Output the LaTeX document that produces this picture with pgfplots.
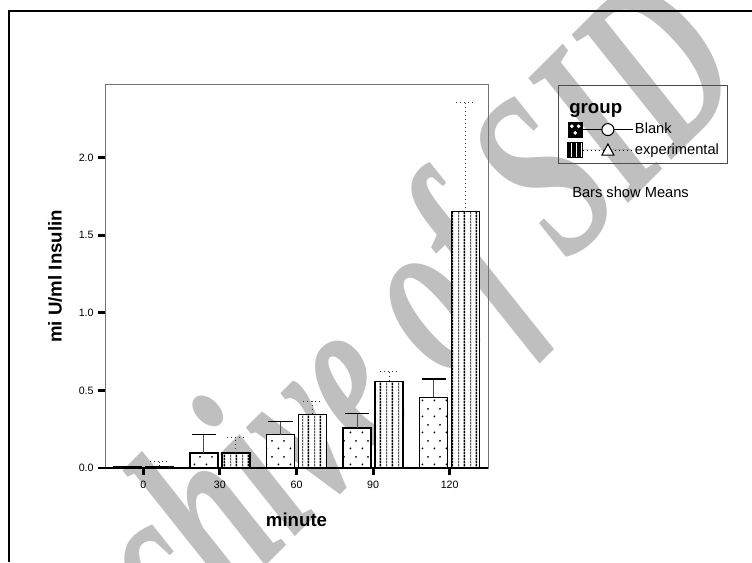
\documentclass[border=0pt]{standalone}
\usepackage{pgfplots}
\pgfplotsset{compat=1.18}
\usepackage{pgfplotstable}
\usepackage{graphicx}
\usepackage{fontspec}
\setmainfont{Liberation Sans}
\newfontfamily\wmfont{Liberation Serif}
\usetikzlibrary{patterns.meta}

\tikzdeclarepattern{
  name=spdots,
  type=uncolored,
  bounding box={(0,0) and (9pt,12pt)},
  tile size={(9pt,12pt)},
  code={
    \fill (2pt,2pt) circle (0.8pt);
    \fill (6.5pt,8pt) circle (0.8pt);
  }
}
\tikzdeclarepattern{
  name=vlines,
  type=uncolored,
  bounding box={(0,0) and (9pt,2pt)},
  tile size={(9pt,2pt)},
  code={
    \fill (1.95pt,0pt) rectangle (2.6pt,2pt);
    \fill (6.2pt,0pt) rectangle (7.35pt,2pt);
  }
}

\pgfplotstableread{
x y e
0 0.010 0.000
1 0.097 0.118
2 0.215 0.085
3 0.258 0.094
4 0.456 0.118
}\blank
\pgfplotstableread{
x y e
0 0.010 0.030
1 0.097 0.100
2 0.346 0.084
3 0.559 0.060
4 1.652 0.703
}\expt

\begin{document}
\begin{tikzpicture}
\useasboundingbox (0,0) rectangle (564pt,421.5pt);
\begin{scope}
\clip (0,0) rectangle (564pt,421.5pt);
\node[anchor=center, inner sep=0pt, text=black!25, font=\wmfont\bfseries\itshape\fontsize{130}{130}\selectfont] at (275pt,136pt) {\rotatebox{45}{\scalebox{0.9}[1.4]{Archive of SID}}};
\end{scope}
\draw[line width=1.6pt] (6.75pt,0pt) -- (6.75pt,413.25pt) -- (564pt,413.25pt);

\begin{axis}[
  at={(78.75pt,70.5pt)}, anchor=south west,
  scale only axis, width=287.25pt, height=287.5pt,
  xmin=-0.5, xmax=4.5, ymin=0, ymax=2.47,
  xtick={0,1,2,3,4}, xticklabels={0,30,60,90,120},
  ytick={0,0.5,1,1.5,2},
  yticklabel style={/pgf/number format/.cd, fixed, fixed zerofill, precision=1},
  /pgf/number format/assume math mode=true,
  tick align=outside, xtick pos=bottom, ytick pos=left,
  major tick length=5pt,
  tick style={black, line width=2.2pt},
  axis line style={black!55, line width=0.6pt},
  ticklabel style={font=\fontsize{8}{9}\selectfont},
  xticklabel style={yshift=-1pt},
  xlabel={minute}, ylabel={mi U/ml Insulin},
  label style={font=\fontsize{14}{16}\selectfont\bfseries},
  xlabel style={at={(axis description cs:0.5,-0.1357)}, anchor=center},
  ylabel style={at={(axis description cs:-0.1305,0.5)}, anchor=center},
  legend style={draw=none, fill=none, at={(1.206,0.9035)}, anchor=north west,
    font=\fontsize{11}{13}\selectfont, row sep=3.5pt, inner sep=0pt,
    nodes={inner sep=1pt}},
  legend cell align=left,
]
\addplot[ybar, bar width=21pt, bar shift=-12pt, draw=black, line width=1.1pt, fill=white,
  legend image code/.code={
    \draw[black, fill=black, line width=0.5pt] (0pt,-5.5pt) rectangle (11pt,5.5pt);
    \fill[white] (3pt,2.5pt) circle (0.7pt) (8pt,2.5pt) circle (0.7pt) (5.5pt,-2.5pt) circle (0.7pt);
    \draw[black, line width=0.6pt] (11pt,0pt) -- (49pt,0pt);
    \draw[black, line width=0.8pt, fill=white] (30pt,0pt) circle (4.5pt);
  }] table[x=x, y=y] {\blank};
\addlegendentry{Blank}
\addplot[ybar, bar width=21pt, bar shift=12pt, draw=black, line width=1.1pt, fill=white,
  legend image code/.code={
    \draw[black, fill=white, line width=0.5pt] (0pt,-5.5pt) rectangle (11pt,5.5pt);
    \fill[black] (0pt,-5.5pt) rectangle (1.6pt,5.5pt) (4pt,-5.5pt) rectangle (5.6pt,5.5pt) (7.5pt,-5.5pt) rectangle (9pt,5.5pt);
    \draw[black, line width=0.6pt, dash pattern=on 0.8pt off 2.2pt] (11pt,0pt) -- (49pt,0pt);
    \draw[black, line width=0.8pt, fill=white] (25.5pt,-3.8pt) -- (34.5pt,-3.8pt) -- (30pt,4.5pt) -- cycle;
  }] table[x=x, y=y] {\expt};
\addlegendentry{experimental}
\addplot[ybar, bar width=21pt, bar shift=-12pt, draw=none, pattern={spdots}, pattern color=black, forget plot] table[x=x, y=y] {\blank};
\addplot[ybar, bar width=21pt, bar shift=12pt, draw=none, pattern={vlines}, pattern color=black, forget plot] table[x=x, y=y] {\expt};
% error bars
\addplot[draw=none, mark=none, forget plot,
  error bars/.cd, y dir=plus, y explicit, error mark=|,
  error bar style={draw=black!70, line width=0.7pt, solid},
  error mark options={draw=black, line width=0.9pt, mark size=9pt, solid},
  ] table[x expr=\thisrow{x}-0.2089, y=y, y error=e] {\blank};
\addplot[draw=none, mark=none, forget plot,
  error bars/.cd, y dir=plus, y explicit, error mark=|,
  error bar style={draw=black!80, line width=0.8pt, dash pattern=on 0.8pt off 2.2pt},
  error mark options={draw=black!80, line width=0.8pt, mark size=7pt, dash pattern=on 0.8pt off 2.2pt},
  ] table[x expr=\thisrow{x}+0.2089, y=y, y error=e] {\expt};
\draw[black, line width=0.8pt] (axis cs:-0.5,0) -- (axis cs:4.5,0);
\end{axis}

\draw[black!70, line width=0.6pt] (418.5pt,357.75pt) rectangle (545.25pt,299.25pt);
\node[anchor=base west, inner sep=0pt, font=\fontsize{14}{16}\selectfont\bfseries] at (426.75pt,336.75pt) {group};
\node[anchor=west, inner sep=0pt, font=\fontsize{11}{13}\selectfont] at (429pt,277.5pt) {Bars show Means};
\end{tikzpicture}
\end{document}
